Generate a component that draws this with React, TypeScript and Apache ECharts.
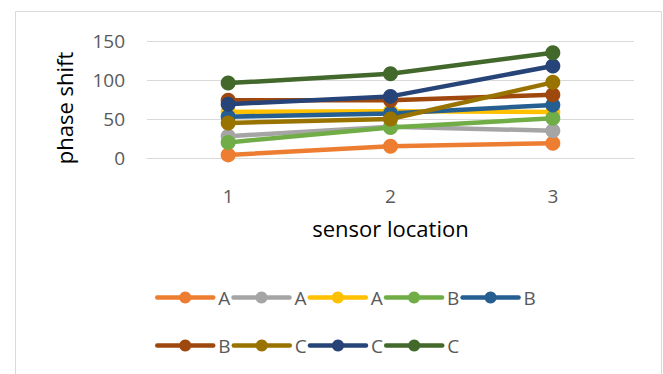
import React, { useEffect, useRef } from "react";
import * as echarts from "echarts";

const categories = ["1", "2", "3"];
const seriesNames = ["A", "A", "A", "B", "B", "B", "C", "C", "C"];
const seriesColors = [
  "#ED7D31",
  "#A5A5A5",
  "#FFC000",
  "#70AD47",
  "#255E91",
  "#9E480E",
  "#997300",
  "#264478",
  "#43682B",
];
const seriesValues = [
  [4, 15, 19],
  [28, 40, 35],
  [59, 60, 59],
  [20, 39, 51],
  [53, 57, 68],
  [74, 74, 81],
  [45, 50, 97],
  [69, 79, 118],
  [96, 108, 135],
];
const yTicks = { min: 0, max: 150, interval: 50 };

const FONT = "'Open Sans', sans-serif";

export default function App() {
  const ref = useRef<HTMLDivElement>(null);

  useEffect(() => {
    document.body.style.margin = "0";
    if (!ref.current) return;
    const chart = echarts.init(ref.current, undefined, { renderer: "svg" });

    const series = seriesValues.map((vals, i) => ({
      name: `${seriesNames[i]}#${i}`,
      type: "line" as const,
      data: vals,
      symbol: "circle",
      symbolSize: 15,
      color: seriesColors[i],
      lineStyle: { width: 4.5, color: seriesColors[i], cap: "round", join: "round" },
      itemStyle: { color: seriesColors[i] },
      emphasis: { disabled: true },
    }));

    const legendCommon = {
      left: 150,
      itemWidth: 56,
      itemHeight: 15,
      itemGap: 1,
      lineStyle: { width: 4.5, cap: "round" },
      textStyle: { fontFamily: FONT, fontSize: 19, color: "#595959" },
      formatter: (n: string) => n.split("#")[0],
      selectedMode: false as const,
    };

    chart.setOption({
      animation: false,
      backgroundColor: "#fff",
      graphic: [
        {
          type: "rect",
          shape: { x: 15.5, y: 11.5, width: 646, height: 380 },
          style: { fill: "none", stroke: "#D9D9D9", lineWidth: 1 },
          silent: true,
        },
        {
          type: "text",
          x: 64,
          y: 108,
          rotation: Math.PI / 2,
          style: {
            text: "phase shift",
            fontFamily: FONT,
            fontSize: 22,
            fill: "#000",
            align: "center",
            verticalAlign: "middle",
          },
          silent: true,
        },
      ],
      grid: { left: 147, right: 29, top: 41, bottom: 216 },
      legend: [
        {
          ...legendCommon,
          top: 283,
          data: series.slice(0, 5).map((s) => s.name),
        },
        {
          ...legendCommon,
          top: 331,
          data: series.slice(5).map((s) => s.name),
        },
      ],
      xAxis: {
        type: "category",
        data: categories,
        boundaryGap: true,
        axisLine: { show: true, lineStyle: { color: "#D9D9D9", width: 1 } },
        axisTick: { show: false },
        axisLabel: {
          margin: 28,
          fontFamily: FONT,
          fontSize: 19,
          color: "#595959",
        },
        name: "sensor location",
        nameLocation: "middle",
        nameGap: 59,
        nameTextStyle: { fontFamily: FONT, fontSize: 22, color: "#000" },
      },
      yAxis: {
        type: "value",
        min: yTicks.min,
        max: yTicks.max,
        interval: yTicks.interval,
        axisLine: { show: false },
        axisTick: { show: false },
        splitLine: { lineStyle: { color: "#D9D9D9", width: 1 } },
        axisLabel: {
          margin: 22,
          fontFamily: FONT,
          fontSize: 19,
          color: "#595959",
        },
      },
      series,
    });

    return () => chart.dispose();
  }, []);

  return <div ref={ref} style={{ width: 663, height: 374 }} />;
}
